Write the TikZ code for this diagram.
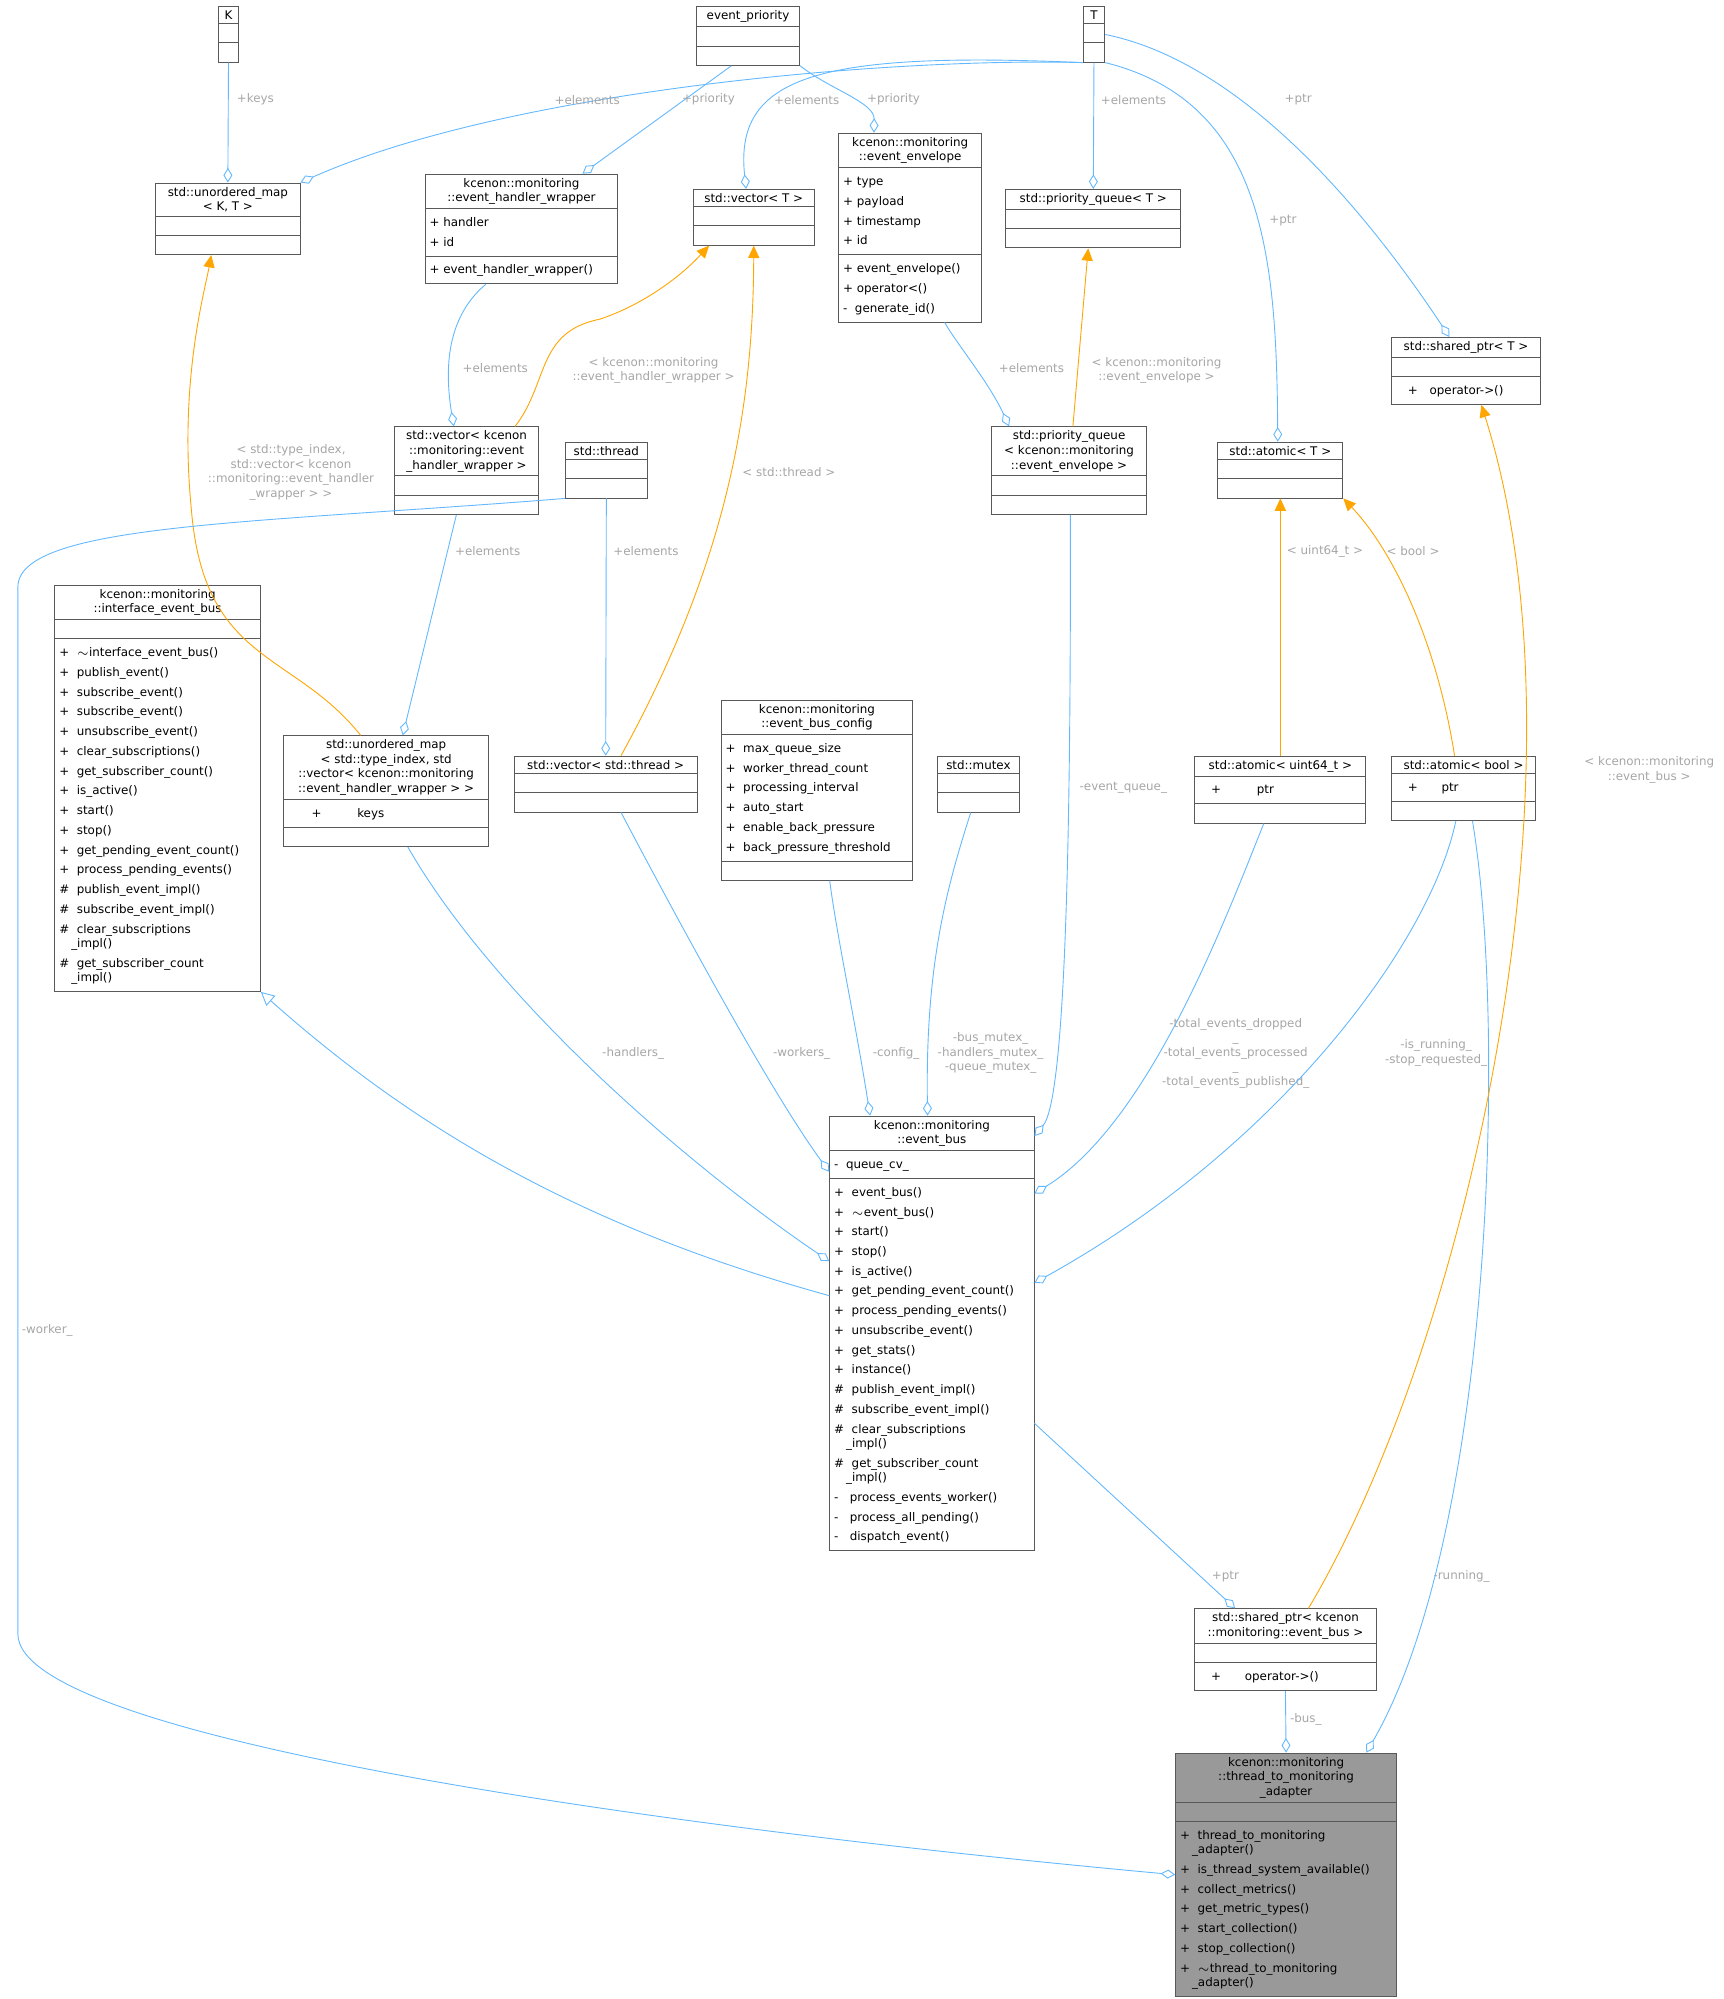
\documentclass[tikz,border=0pt]{standalone}
\usepackage{fontspec}
\newfontfamily\djfont{DejaVu Sans}
\usetikzlibrary{shapes.multipart,arrows.meta,calc}
\newlength{\pxu}\setlength{\pxu}{0.02cm}
\newcommand{\ml}[1]{{\renewcommand{\arraystretch}{1.354}\begin{tabular}{@{}l@{}}#1\end{tabular}}}
\newcommand{\wrapline}{\\[-2.4pt]}
\definecolor{edgeblue}{RGB}{99,184,255}
\definecolor{tmplorange}{RGB}{255,165,0}
\tikzset{
  umlclass/.style={rectangle split, rectangle split parts=3, draw=black!65,
    align=center, rectangle split part align={center,left,left},
    rectangle split empty part height=5pt, inner xsep=2pt, inner ysep=1.6pt,
    font=\djfont\fontsize{5.3}{6.5}\selectfont, anchor=north, fill=white},
  agg/.style={draw=edgeblue, {Diamond[open,length=6.5pt,width=4pt]}-},
  tmpl/.style={draw=tmplorange, -{Triangle[length=5.5pt,width=5pt]}},
  inh/.style={draw=edgeblue, -{Triangle[open,length=6pt,width=6pt]}},
  lbl/.style={font=\djfont\fontsize{5.3}{6.5}\selectfont, text=black!35, align=center}
}
\begin{document}
\begin{tikzpicture}[x=0.02cm,y=-0.02cm]
\useasboundingbox (0,0) rectangle (1350,1566);
% classes
\node[umlclass, minimum width=16\pxu] (K) at (179,5) {K};
\node[umlclass, minimum width=81\pxu] (evprio) at (586,5) {event\_priority};
\node[umlclass, minimum width=17\pxu] (T) at (857,5) {T};
\node[umlclass, minimum width=113\pxu] (umapKT) at (178.5,143) {std::unordered\_map\\< K, T >};
\node[umlclass, minimum width=151\pxu] (ehw) at (408.5,136) {kcenon::monitoring\\::event\_handler\_wrapper
  \nodepart{second}\ml{+~handler\\+~id}
  \nodepart{third}\ml{+~event\_handler\_wrapper()}};
\node[umlclass, minimum width=95\pxu] (vecT) at (590.5,148) {std::vector< T >};
\node[umlclass, minimum width=112\pxu] (env) at (713,104) {kcenon::monitoring\\::event\_envelope
  \nodepart{second}\ml{+~type\\+~payload\\+~timestamp\\+~id}
  \nodepart{third}\ml{+~event\_envelope()\\+~operator<()\\-~~generate\_id()}};
\node[umlclass, minimum width=137\pxu] (pqT) at (856.5,148) {std::priority\_queue< T >};
\node[umlclass, minimum width=117\pxu] (spT) at (1148.5,264) {std::shared\_ptr< T >
  \nodepart{third}\ml{\quad+\quad operator->()}};
\node[umlclass, minimum width=113\pxu] (vecehw) at (365.5,334) {std::vector< kcenon\\::monitoring::event\\\_handler\_wrapper >};
\node[umlclass, minimum width=64\pxu] (thread) at (475,346) {std::thread};
\node[umlclass, minimum width=121\pxu] (pqee) at (837.5,334) {std::priority\_queue\\< kcenon::monitoring\\::event\_envelope >};
\node[umlclass, minimum width=98\pxu] (atomT) at (1003,346) {std::atomic< T >};
\node[umlclass, minimum width=161\pxu] (ieb) at (123.5,458) {kcenon::monitoring\\::interface\_event\_bus
  \nodepart{third}\ml{+~~$\sim$interface\_event\_bus()\\+~~publish\_event()\\+~~subscribe\_event()\\+~~subscribe\_event()\\+~~unsubscribe\_event()\\+~~clear\_subscriptions()\\+~~get\_subscriber\_count()\\+~~is\_active()\\+~~start()\\+~~stop()\\+~~get\_pending\_event\_count()\\+~~process\_pending\_events()\\\#~~publish\_event\_impl()\\\#~~subscribe\_event\_impl()\\\#~~clear\_subscriptions\wrapline\quad\_impl()\\\#~~get\_subscriber\_count\wrapline\quad\_impl()}};
\node[umlclass, minimum width=161\pxu] (umapti) at (302.5,576) {std::unordered\_map\\< std::type\_index, std\\::vector< kcenon::monitoring\\::event\_handler\_wrapper > >
  \nodepart{second}\ml{\qquad+\qquad\quad keys}};
\node[umlclass, minimum width=143\pxu] (vecthr) at (474.5,592) {std::vector< std::thread >};
\node[umlclass, minimum width=150\pxu] (cfg) at (640,548) {kcenon::monitoring\\::event\_bus\_config
  \nodepart{second}\ml{+~~max\_queue\_size\\+~~worker\_thread\_count\\+~~processing\_interval\\+~~auto\_start\\+~~enable\_back\_pressure\\+~~back\_pressure\_threshold}};
\node[umlclass, minimum width=65\pxu] (mutex) at (766.5,592) {std::mutex};
\node[umlclass, minimum width=134\pxu] (au64) at (1003,592) {std::atomic< uint64\_t >
  \nodepart{second}\ml{\quad+\qquad\quad ptr}};
\node[umlclass, minimum width=113\pxu] (abool) at (1146.5,592) {std::atomic< bool >
  \nodepart{second}\ml{\quad+\qquad ptr}};
\node[umlclass, minimum width=160\pxu] (eb) at (730,874) {kcenon::monitoring\\::event\_bus
  \nodepart{second}\ml{-~~queue\_cv\_}
  \nodepart{third}\ml{+~~event\_bus()\\+~~$\sim$event\_bus()\\+~~start()\\+~~stop()\\+~~is\_active()\\+~~get\_pending\_event\_count()\\+~~process\_pending\_events()\\+~~unsubscribe\_event()\\+~~get\_stats()\\+~~instance()\\\#~~publish\_event\_impl()\\\#~~subscribe\_event\_impl()\\\#~~clear\_subscriptions\wrapline\quad\_impl()\\\#~~get\_subscriber\_count\wrapline\quad\_impl()\\-~~~process\_events\_worker()\\-~~~process\_all\_pending()\\-~~~dispatch\_event()}};
\node[umlclass, minimum width=142\pxu] (speb) at (1007,1260) {std::shared\_ptr< kcenon\\::monitoring::event\_bus >
  \nodepart{third}\ml{\quad+\qquad operator->()}};
\node[umlclass, minimum width=173\pxu, fill=black!40] (ad) at (1007.5,1373) {kcenon::monitoring\\::thread\_to\_monitoring\\\_adapter
  \nodepart{third}\ml{+~~thread\_to\_monitoring\wrapline\quad\_adapter()\\+~~is\_thread\_system\_available()\\+~~collect\_metrics()\\+~~get\_metric\_types()\\+~~start\_collection()\\+~~stop\_collection()\\+~~$\sim$thread\_to\_monitoring\wrapline\quad\_adapter()}};
% connectors
\draw[agg] (umapKT.north) -- (K.south);
\node[lbl] at (200,78) {+keys};
\draw[agg] (umapKT.north east) .. controls (400,70) and (700,45) .. (T.south west);
\node[lbl] at (460,78) {+elements};
\draw[agg] ($(ehw.north east)+(-28,0)$) -- ($(evprio.south)+(-13,0)$);
\node[lbl] at (555,78) {+priority};
\draw[agg] ($(vecT.north)+(-6,0)$) .. controls (575,60) and (640,40) .. (T.south west);
\node[lbl] at (632,78) {+elements};
\draw[agg] ($(env.north west)+(28,0)$) .. controls (685,80) and (650,70) .. (evprio.south east);
\node[lbl] at (700,78) {+priority};
\draw[agg] (pqT.north) -- (T.south);
\node[lbl] at (888,78) {+elements};
\draw[agg] ($(atomT.north)+(-2,0)$) .. controls (1000,200) and (990,80) .. (T.south east);
\node[lbl] at (1005,173) {+ptr};
\draw[agg] ($(spT.north)+(-13,0)$) .. controls (1080,180) and (980,50) .. (T.east);
\node[lbl] at (1017,78) {+ptr};
\draw[agg] ($(vecehw.north)+(-10,0)$) .. controls (345,270) and (360,240) .. ($(ehw.south)+(-28,0)$);
\node[lbl] at (388,288) {+elements};
\draw[tmpl] ($(vecehw.north)+(38,0)$) .. controls (430,300) and (420,260) .. (470,250) .. controls (500,240) and (530,220) .. ($(vecT.south)+(-35,0)$);
\node[lbl] at (512,290) {< kcenon::monitoring\\::event\_handler\_wrapper >};
\draw[agg] ($(pqee.north)+(-47,0)$) .. controls (775,300) and (750,270) .. ($(env.south)+(27,0)$);
\node[lbl] at (808,288) {+elements};
\draw[tmpl] ($(pqee.north)+(3,0)$) -- ($(pqT.south)+(-4,0)$);
\node[lbl] at (906,290) {< kcenon::monitoring\\::event\_envelope >};
\draw[agg] ($(umapti.north)+(13,0)$) -- ($(vecehw.south)+(-8,0)$);
\node[lbl] at (382,432) {+elements};
\draw[tmpl] ($(umapti.north)+(-20,0)$) .. controls (230,510) and (160,520) .. (150,400) .. controls (140,300) and (160,230) .. ($(umapKT.south)+(-13,0)$);
\node[lbl] at (228,370) {< std::type\_index,\\std::vector< kcenon\\::monitoring::event\_handler\\\_wrapper > >};
\draw[agg] (vecthr.north) -- (thread.south);
\node[lbl] at (506,432) {+elements};
\draw[tmpl] ($(vecthr.north)+(12,0)$) .. controls (570,440) and (590,320) .. (vecT.south);
\node[lbl] at (618,370) {< std::thread >};
\draw[tmpl] (au64.north) -- (atomT.south);
\node[lbl] at (1038,432) {< uint64\_t >};
\draw[tmpl] ($(abool.north)+(-7,0)$) .. controls (1125,500) and (1090,430) .. (atomT.south east);
\node[lbl] at (1107,432) {< bool >};
\draw[agg] (ad.west) .. controls (500,1430) and (14,1360) .. (14,1280) -- (14,460) .. controls (14,410) and (200,410) .. (thread.south west);
\node[lbl] at (37,1042) {-worker\_};
\draw[agg] ($(eb.north west)+(0,114)$) .. controls (520,900) and (380,770) .. ($(umapti.south)+(17,0)$);
\node[lbl] at (496,825) {-handlers\_};
\draw[agg] ($(eb.north west)+(0,44)$) .. controls (600,850) and (520,700) .. ($(vecthr.south)+(12,0)$);
\node[lbl] at (628,825) {-workers\_};
\draw[agg] ($(eb.north west)+(32,0)$) .. controls (670,800) and (655,730) .. ($(cfg.south)+(10,0)$);
\node[lbl] at (702,825) {-config\_};
\draw[agg] ($(eb.north west)+(77,0)$) .. controls (725,760) and (740,700) .. ($(mutex.south)+(-6,0)$);
\node[lbl] at (776,825) {-bus\_mutex\_\\-handlers\_mutex\_\\-queue\_mutex\_};
\draw[agg] ($(eb.north east)+(0,16)$) .. controls (835,860) and (839,650) .. ($(pqee.south)+(1,0)$);
\node[lbl] at (880,617) {-event\_queue\_};
\draw[agg] ($(eb.north east)+(0,61)$) .. controls (900,880) and (960,720) .. ($(au64.south)+(-13,0)$);
\node[lbl] at (968,825) {-total\_events\_dropped\\\_\\-total\_events\_processed\\\_\\-total\_events\_published\_};
\draw[agg] ($(eb.north east)+(0,131)$) .. controls (1000,900) and (1120,740) .. ($(abool.south)+(-6,0)$);
\node[lbl] at (1125,825) {-is\_running\_\\-stop\_requested\_};
\draw[agg] ($(ad.north east)+(-24,0)$) .. controls (1170,1200) and (1180,800) .. ($(abool.south)+(7,0)$);
\node[lbl] at (1145,1235) {-running\_};
\draw[agg] ($(speb.north west)+(32,0)$) -- ($(eb.north east)+(0,241)$);
\node[lbl] at (960,1235) {+ptr};
\draw[tmpl] ($(speb.north)+(18,0)$) .. controls (1150,1050) and (1250,600) .. ($(spT.south)+(12,0)$);
\node[lbl] at (1292,603) {< kcenon::monitoring\\::event\_bus >};
\draw[agg] (ad.north) -- (speb.south);
\node[lbl] at (1023,1347) {-bus\_};
\draw[inh] ($(eb.north west)+(0,141)$) .. controls (450,960) and (320,880) .. (ieb.south east);
\end{tikzpicture}
\end{document}
